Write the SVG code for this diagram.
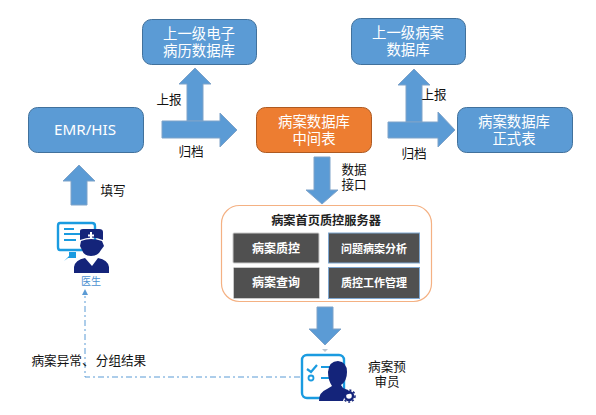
<svg xmlns="http://www.w3.org/2000/svg" width="596" height="415" viewBox="0 0 596 415">
<style>
text{font-family:"Noto Sans CJK SC","Liberation Sans",sans-serif;text-anchor:middle}
.box{fill:#5b9bd5;stroke:#41719c;stroke-width:1}
.or{fill:#ed7d31;stroke:#ae5a21;stroke-width:1}
.w{fill:#fff;font-size:14.4px}
.l{fill:#111;font-size:12.6px}
.arr{fill:#5b9bd5;stroke:#7fa3c9;stroke-width:1}
.sub{fill:#505050;stroke:#c9c9c9;stroke-width:1}
.sub2{fill:#505050;stroke:#7fa7d0;stroke-width:1}
.sw{fill:#fff;font-weight:700}
.navy{fill:#14247a}
.cy{fill:none;stroke:#1a9be0;stroke-width:2.4}
</style>
<rect width="596" height="415" fill="#fff"/>
<g id="connectors">
<path class="arr" d="M79 165L95 181H87V205H71V181H63Z"/>
<path class="arr" d="M195 68L211 84H203V121H187V84H179Z"/>
<path class="arr" d="M162 121H220V113L237 130L220 147V138H162Z"/>
<path class="arr" d="M414 69L430 85H422V122H406V85H398Z"/>
<path class="arr" d="M388 122H438V112L455 130L438 147V138H388Z"/>
<path class="arr" d="M314 157H330V190H338L322 204L306 190H314Z"/>
<path class="arr" d="M317 307H333V329H341L325 345L309 329H317Z"/>
<path d="M322 349h6l-3 3z" fill="#b9c4cf"/>
<path d="M300 377H85V296" fill="none" stroke="#5b9bd5" stroke-width="1" stroke-dasharray="6 3 2 3"/>
<path d="M85 289l3 6h-6z" fill="#5b9bd5"/>
<text class="l" x="169" y="104">上报</text>
<text class="l" x="191" y="156">归档</text>
<text class="l" x="113" y="195">填写</text>
<text class="l" x="434" y="99">上报</text>
<text class="l" x="414" y="158">归档</text>
<text class="l" x="354" y="174">数据<tspan x="354" dy="15">接口</tspan></text>
<text class="l" x="63" y="365">病案异常、</text>
<text class="l" x="121" y="365">分组结果</text>
</g>
<g id="n-upper-emr"><rect class="box" x="142.500" y="19.500" width="114" height="45" rx="9"/><text class="w" x="199" y="39">上一级电子<tspan x="199" dy="17">病历数据库</tspan></text></g>
<g id="n-upper-case"><rect class="box" x="351.500" y="18.500" width="114" height="46" rx="9"/><text class="w" x="408" y="38">上一级病案<tspan x="408" dy="17">数据库</tspan></text></g>
<g id="n-emr"><rect class="box" x="28.500" y="107.500" width="115" height="45" rx="9"/><text class="w" x="85" y="135" style="font-family:'Noto Sans','Liberation Sans',sans-serif;font-size:15.2px">EMR/HIS</text></g>
<g id="n-mid"><rect class="or" x="256.500" y="107.500" width="115" height="45" rx="9"/><text class="w" x="314" y="127">病案数据库<tspan x="314" dy="17">中间表</tspan></text></g>
<g id="n-formal"><rect class="box" x="457.500" y="107.500" width="115" height="45" rx="9"/><text class="w" x="514" y="127">病案数据库<tspan x="514" dy="17">正式表</tspan></text></g>
<g id="n-server">
<rect x="221.500" y="205.500" width="210" height="96" rx="18" fill="#fff" stroke="#f4b183" stroke-width="1.200"/>
<text x="326" y="225" font-size="12.200" font-weight="700" fill="#222">病案首页质控服务器</text>
<rect class="sub" x="233" y="233" width="86" height="30" rx="1"/><text class="sw" x="276" y="253" font-size="12">病案质控</text>
<rect class="sub2" x="328.500" y="233" width="91" height="30"/><text class="sw" x="374" y="253" font-size="11">问题病案分析</text>
<rect class="sub" x="233.500" y="267.500" width="86" height="31" rx="1"/><text class="sw" x="276" y="287" font-size="12">病案查询</text>
<rect class="sub2" x="328.500" y="267.500" width="91" height="31"/><text class="sw" x="374" y="287" font-size="11">质控工作管理</text>
</g>
<g id="n-doctor">
<path d="M60 223H92Q95 223 95 226V247Q95 250 92 250H60Q58 250 58 247V226Q58 223 60 223Z" class="cy"/>
<path d="M69 252H76V258H68L64 261L69 256Z" fill="#1a9be0"/>
<path d="M64 229h10M64 234h16M64 240h12" stroke="#1a9be0" stroke-width="1.800" fill="none"/>
<path class="navy" d="M80 231Q80 229 83 229H99Q103 229 103 232V240Q92 235 80 240Z"/>
<path d="M91 232v7M88 235.500h6" stroke="#fff" stroke-width="2"/>
<path class="navy" d="M81 241Q91 237 102 241L104 246L101 250Q98 256 91 256Q84 256 82 250L80 246Z"/>
<path class="navy" d="M74 273V267Q75 260 85 258L92 266L98 258Q108 260 109 267V273Z"/>
<text x="91" y="285" font-size="10" fill="#4a90d0">医生</text>
</g>
<g id="n-auditor">
<rect x="302" y="355" width="42" height="43" rx="5" class="cy"/>
<path d="M307 369l4 3 6-7" fill="none" stroke="#1a9be0" stroke-width="2.200"/>
<circle cx="311" cy="378" r="2.500" fill="none" stroke="#1a9be0" stroke-width="1.800"/>
<path d="M321 367h14M321 378h12" stroke="#1a9be0" stroke-width="2"/>
<path class="navy" d="M328 372Q329 361 338 361Q347 362 347 372Q347 381 341 385L343 388Q349 390 352 393L345 395L343 401H319Q319 392 327 389L332 386Q328 380 328 372Z"/>
<circle cx="349" cy="396" r="4" fill="none" stroke="#14247a" stroke-width="2.400"/>
<circle cx="349" cy="396" r="6" fill="none" stroke="#14247a" stroke-width="1.500" stroke-dasharray="2 2"/>
<text class="l" x="387" y="371">病案预<tspan x="387" dy="15">审员</tspan></text>
</g>
</svg>
